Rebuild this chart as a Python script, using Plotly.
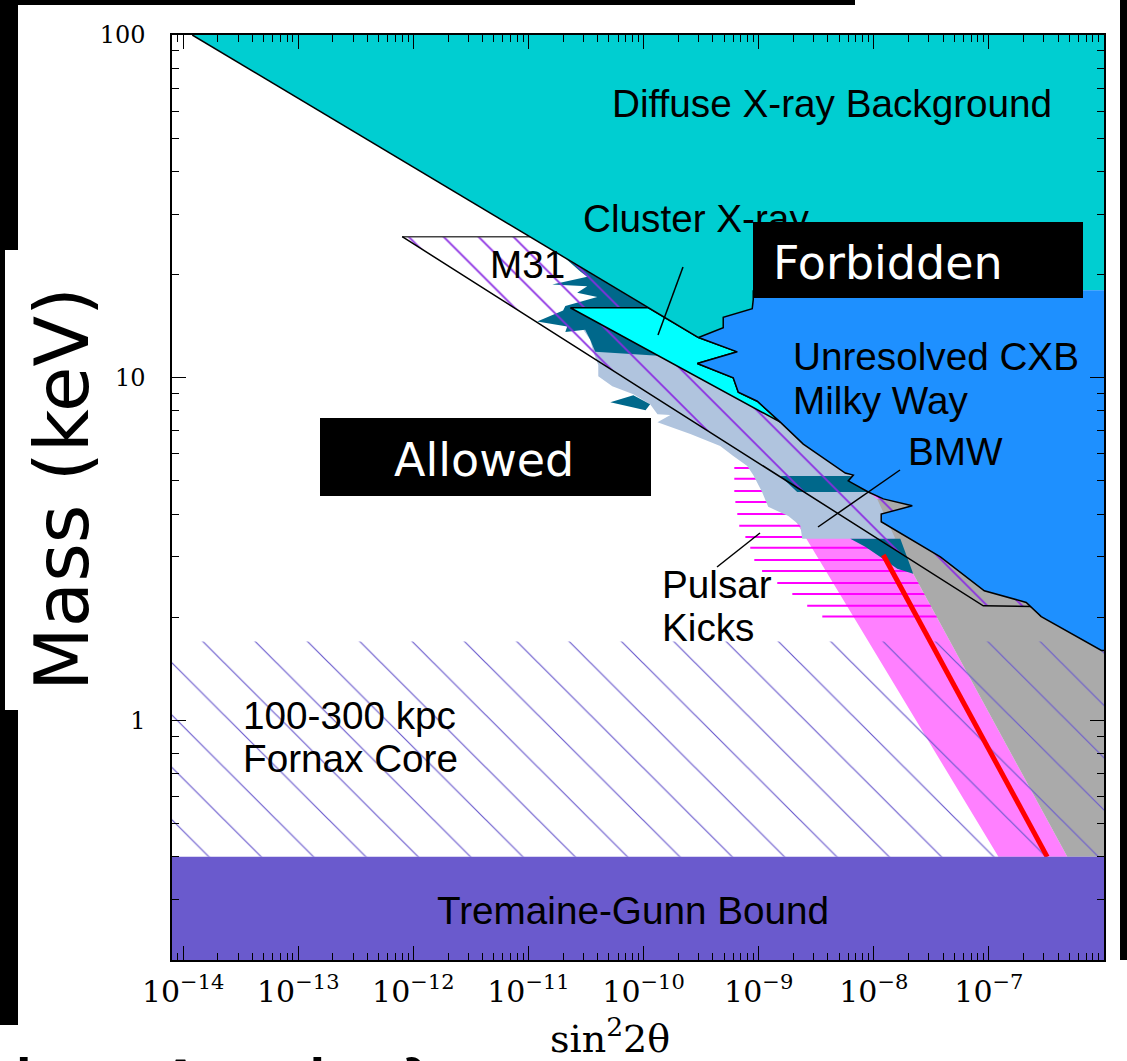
import plotly.graph_objects as go

# ---------------- figure geometry ----------------
W, H = 1127, 1061
L, R, T, B = 172, 23, 35, 101
PW, PH = W - L - R, H - T - B


def px(x):
    return (x - L) / PW


def py(y):
    return (H - B - y) / PH


# ---------------- data (sin^2 2theta , mass keV) ----------------
X_MIN, X_MAX = 8e-15, 1e-6
Y_MIN, Y_MAX = 0.2, 100
TG_BOUND = 0.4
FORNAX_TOP = 1.7

# Diffuse X-ray background lower edge
dxb_line_x = [1.2e-14, 3.0e-10]
dxb_line_y = [100, 13.1]
# DXB / unresolved CXB boundary (from junction upwards)
dxb_cxb_x = [3.0e-10, 4.92e-10, 4.92e-10, 8.79e-10, 8.97e-10, 8.97e-10]
dxb_cxb_y = [13.1, 14.0, 15.0, 15.9, 16.9, 18.0]
# Unresolved CXB / Milky Way lower edge
cxb_edge_x = [3.0e-10, 6.52e-10, 2.93e-10, 6.01e-10, 6.65e-10, 9.73e-10, 1.54e-9,
              2.44e-9, 5.65e-9, 6.64e-9, 6.0e-9, 8.95e-9, 1.21e-8, 2.16e-8, 1.16e-8,
              1.16e-8, 3.79e-8, 9.12e-8, 2.11e-7, 2.85e-7, 9.5e-7, 1.0e-6]
cxb_edge_y = [13.1, 11.9, 11.0, 10.0, 9.07, 8.54, 7.42,
              6.40, 5.27, 5.2, 5.0, 4.64, 4.43, 4.23, 4.00,
              3.80, 3.00, 2.39, 2.21, 2.01, 1.60, 1.60]

# Cluster X-ray
cluster_x = [2.31e-11, 1.10e-10, 3.0e-10, 6.52e-10, 2.93e-10, 6.01e-10, 6.65e-10,
             9.73e-10, 1.54e-9, 2.31e-11]
cluster_y = [16.0, 16.0, 13.1, 11.9, 11.0, 10.0, 9.07, 8.54, 7.42, 16.0]

# BMW (light steel blue)
bmw_x = [3.11e-11, 1.54e-9, 2.44e-9, 5.65e-9, 6.64e-9, 6.0e-9, 8.95e-9, 1.07e-8,
         1.54e-8, 2.39e-9, 2.30e-9, 1.81e-9, 1.21e-9, 1.07e-9, 8.97e-10, 7.96e-10,
         6.01e-10, 4.63e-10, 2.55e-10, 1.32e-10, 1.71e-10, 1.32e-10, 1.14e-10,
         8.15e-11, 5.35e-11, 4.04e-11, 4.04e-11, 3.66e-11, 3.44e-11, 2.99e-11]
bmw_y = [15.2, 7.42, 6.40, 5.27, 5.2, 5.0, 4.64, 4.43,
         3.39, 3.39, 3.70, 3.95, 4.20, 4.64, 5.20, 5.53,
         5.91, 6.32, 6.85, 7.42, 7.78, 7.83, 8.37,
         8.95, 9.45, 10.1, 10.9, 11.9, 12.9, 13.8]

# M31 (dark teal) pieces
m31_a_x = [2.09e-11, 1.10e-10, 1.34e-10, 3.80e-11, 3.44e-11, 3.11e-11, 2.09e-11,
           2.17e-11, 1.19e-11, 2.0e-11, 2.09e-11, 3.96e-11, 2.65e-11, 3.24e-11,
           1.61e-11, 3.24e-11, 2.82e-11]
m31_a_y = [22.3, 16.0, 11.6, 11.9, 12.9, 13.8, 13.6,
           14.1, 14.6, 15.7, 16.2, 17.2, 17.7, 18.5,
           18.7, 19.7, 20.4]
m31_b_x = [5.14e-11, 8.15e-11, 1.14e-10, 1.04e-10]
m31_b_y = [8.48, 8.89, 8.37, 8.04]
m31_c_x = [1.54e-9, 6.25e-9, 9.33e-9, 2.16e-9]
m31_c_y = [5.17, 5.17, 4.64, 4.64]
m31_d_x = [6.25e-9, 1.70e-8, 2.20e-8, 1.60e-8, 1.14e-8, 8.43e-9]
m31_d_y = [3.39, 3.39, 2.68, 2.77, 3.00, 3.21]

# hatched band (purple lines)
band_top_x = [8.0e-13, 1.04e-11]
band_top_y = [25.8, 25.8]
band_low_x = [8.0e-13, 8.93e-8, 2.38e-7, 2.85e-7]
band_low_y = [25.8, 2.16, 2.15, 2.01]

# grey region
grey_x = [9.7e-9, 1.21e-8, 2.16e-8, 1.16e-8, 1.16e-8, 3.79e-8, 9.12e-8, 2.11e-7,
          2.85e-7, 9.5e-7, 1e-6, 1e-6, 4.8e-7, 2.20e-8]
grey_y = [4.43, 4.43, 4.23, 4.00, 3.80, 3.00, 2.39, 2.21,
          2.01, 1.60, 1.60, 0.4, 0.4, 2.68]

# pink production band
pink_x = [9.33e-10, 7.64e-9, 2.20e-8, 4.8e-7, 1.21e-7]
pink_y = [5.99, 5.99, 2.68, 0.4, 0.4]

# red line
red_x = [1.21e-8, 3.21e-7]
red_y = [3.04, 0.4]

# Pulsar kicks horizontal lines
pulsar_y = [5.45, 5.07, 4.67, 4.34, 4.00, 3.70, 3.43, 3.19, 2.94, 2.73, 2.52, 2.34, 2.16, 2.01]
pulsar_left = [6.14e-10, 6.14e-10, 6.14e-10, 6.27e-10, 6.52e-10, 6.78e-10, 7.66e-10,
               8.45e-10, 9.16e-10, 1.07e-9, 1.45e-9, 1.96e-9, 2.64e-9, 3.57e-9]
pulsar_right = [3.8e-8] * len(pulsar_y)

x_tick_vals = [1e-14, 1e-13, 1e-12, 1e-11, 1e-10, 1e-9, 1e-8, 1e-7, 1e-6]
x_tick_text = ["10<sup>\u221214</sup>", "10<sup>\u221213</sup>", "10<sup>\u221212</sup>",
               "10<sup>\u221211</sup>", "10<sup>\u221210</sup>", "10<sup>\u22129</sup>",
               "10<sup>\u22128</sup>", "10<sup>\u22127</sup>", "10<sup>\u22126</sup>"]
y_tick_vals = [1, 10, 100]
y_tick_text = ["1", "10", "100"]

# ---------------- colours ----------------
C_DXB = "#00CED1"
C_CXB = "#1E90FF"
C_CLUSTER = "#00FFFF"
C_BMW = "#B0C4DE"
C_M31 = "#00688B"
C_GREY = "#AAAAAA"
C_PINK = "#FF80FF"
C_MAGENTA = "#FF00FF"
C_TG = "#6A5ACD"
C_HATCH = "#6A5ACD"
C_PURPLE = "#8A2BE2"

fig = go.Figure()


def add_poly(xs, ys, color, line_color=None, line_width=0):
    fig.add_trace(go.Scatter(
        x=xs, y=ys, mode="lines", fill="toself", fillcolor=color,
        line=dict(color=line_color if line_color else color, width=line_width),
        hoverinfo="skip", showlegend=False))


def add_line(xs, ys, color="black", width=1.5):
    fig.add_trace(go.Scatter(x=xs, y=ys, mode="lines",
                             line=dict(color=color, width=width),
                             hoverinfo="skip", showlegend=False))


# pink band
add_poly(pink_x, pink_y, C_PINK)
# pulsar kicks lines
pk_x, pk_y = [], []
for yv, xl, xr in zip(pulsar_y, pulsar_left, pulsar_right):
    pk_x += [xl, xr, None]
    pk_y += [yv, yv, None]
add_line(pk_x, pk_y, C_MAGENTA, 2)
# grey
add_poly(grey_x, grey_y, C_GREY)
# Fornax hatch
fig.add_trace(go.Scatter(
    x=[X_MIN, X_MAX, X_MAX, X_MIN, X_MIN], y=[TG_BOUND, TG_BOUND, FORNAX_TOP, FORNAX_TOP, TG_BOUND],
    mode="lines", fill="toself", fillcolor="rgba(0,0,0,0)", line=dict(width=0, color="rgba(0,0,0,0)"),
    fillpattern=dict(shape="\\", size=37, solidity=0.032, fgcolor=C_HATCH,
                     bgcolor="rgba(0,0,0,0)", fillmode="replace"),
    hoverinfo="skip", showlegend=False))
# BMW
add_poly(bmw_x, bmw_y, C_BMW)
# M31 teal pieces
mx, my = [], []
for xs, ys in [(m31_a_x, m31_a_y), (m31_b_x, m31_b_y), (m31_c_x, m31_c_y), (m31_d_x, m31_d_y)]:
    mx += xs + [xs[0], None]
    my += ys + [ys[0], None]
add_poly(mx, my, C_M31)
# purple hatched band
band_x = band_top_x + [dxb_line_x[1]] + cxb_edge_x[1:20] + band_low_x[::-1][1:]
band_y = band_top_y + [dxb_line_y[1]] + cxb_edge_y[1:20] + band_low_y[::-1][1:]
fig.add_trace(go.Scatter(
    x=band_x, y=band_y, mode="lines", fill="toself", fillcolor="rgba(0,0,0,0)",
    line=dict(width=0, color="rgba(0,0,0,0)"),
    fillpattern=dict(shape="\\", size=24.7, solidity=0.07, fgcolor=C_PURPLE,
                     bgcolor="rgba(0,0,0,0)", fillmode="replace"),
    hoverinfo="skip", showlegend=False))
add_line(band_top_x, band_top_y, "#444444", 1.5)
add_line(band_low_x, band_low_y, "black", 1.5)
# Cluster X-ray
add_poly(cluster_x, cluster_y, C_CLUSTER, "black", 1.5)
# DXB
dxb_x = [dxb_line_x[0], X_MAX, X_MAX] + dxb_cxb_x[::-1] + [dxb_line_x[0]]
dxb_y = [dxb_line_y[0], Y_MAX, dxb_cxb_y[-1]] + dxb_cxb_y[::-1] + [dxb_line_y[0]]
add_poly(dxb_x, dxb_y, C_DXB)
# unresolved CXB
cxb_x = [X_MAX] + dxb_cxb_x[::-1] + cxb_edge_x[1:] + [X_MAX]
cxb_y = [dxb_cxb_y[-1]] + dxb_cxb_y[::-1] + cxb_edge_y[1:] + [dxb_cxb_y[-1]]
add_poly(cxb_x, cxb_y, C_CXB)
# boundary lines
add_line(dxb_line_x, dxb_line_y)
add_line(dxb_cxb_x, dxb_cxb_y)
add_line(cxb_edge_x, cxb_edge_y)
# red line
add_line(red_x, red_y, "#FF0000", 5)
# Tremaine-Gunn
add_poly([X_MIN, X_MAX, X_MAX, X_MIN, X_MIN], [Y_MIN, Y_MIN, TG_BOUND, TG_BOUND, Y_MIN], C_TG)

# ---------------- axes ----------------
x_minor = [k * 10.0 ** d for d in range(-15, -6) for k in range(2, 10) if X_MIN <= k * 10.0 ** d <= X_MAX]
y_minor = [k * 10.0 ** d for d in range(-1, 2) for k in range(2, 10) if Y_MIN <= k * 10.0 ** d <= Y_MAX]

axis_common = dict(showgrid=False, zeroline=False, showline=True, linecolor="black", linewidth=1.5,
                   mirror="ticks", ticks="inside", ticklen=14, tickwidth=1.3, tickcolor="black")
fig.update_xaxes(type="log", range=[-14.09691, -6], tickmode="array", tickvals=x_tick_vals,
                 ticktext=x_tick_text, tickfont=dict(family="DejaVu Serif", size=30, color="black"),
                 minor=dict(tickmode="array", tickvals=x_minor, ticks="inside", ticklen=7,
                            tickwidth=1.2, tickcolor="black", showgrid=False),
                 ticklabelstandoff=4, **axis_common)
fig.update_yaxes(type="log", range=[-0.69897, 2], tickmode="array", tickvals=y_tick_vals,
                 ticktext=y_tick_text, tickfont=dict(family="DejaVu Serif", size=24, color="black"),
                 minor=dict(tickmode="array", tickvals=y_minor, ticks="inside", ticklen=7,
                            tickwidth=1.2, tickcolor="black", showgrid=False),
                 ticklabelstandoff=20, **axis_common)

# ---------------- frame / decorations ----------------
shapes = []


def rect(x0, y0, x1, y1, color="black"):
    shapes.append(dict(type="rect", xref="paper", yref="paper", x0=px(x0), x1=px(x1),
                       y0=py(y1), y1=py(y0), fillcolor=color, line=dict(width=0), layer="above"))


def seg(x0, y0, x1, y1):
    shapes.append(dict(type="line", xref="paper", yref="paper", x0=px(x0), x1=px(x1),
                       y0=py(y0), y1=py(y1), line=dict(color="black", width=1.5), layer="above"))


rect(0, 0, 855, 5)
rect(1120, 0, 1127, 960)
rect(0, 0, 18, 250)
rect(0, 250, 5, 710)
rect(0, 710, 18, 1025)
# pointer lines
seg(683, 267, 658, 335)
seg(900, 470, 818, 527)
seg(760, 533, 717, 567)

annotations = []
SANS = "Liberation Sans, Arial, sans-serif"
GOTH = "DejaVu Sans, sans-serif"


def label(text, x, y, size=38.7, anchor="left", color="black", family=SANS, **kw):
    annotations.append(dict(text=text, xref="paper", yref="paper", x=px(x), y=py(y),
                            xanchor=anchor, yanchor="middle", showarrow=False,
                            font=dict(family=family, size=size, color=color), **kw))


label("Diffuse X-ray Background", 610, 103)
label("Cluster X-ray", 581, 219)
label("M31", 488, 264)
label("Unresolved CXB", 791, 356)
label("Milky Way", 791, 401)
label("BMW", 906, 452)
label("Pulsar", 660, 585)
label("Kicks", 660, 627)
label("100-300 kpc", 241, 715)
label("Fornax Core", 241, 758)
label("Tremaine-Gunn Bound", 633, 910, anchor="center")

# black boxes with white text
annotations.append(dict(text=" ", xref="paper", yref="paper", x=px(918), y=py(260),
                        xanchor="center", yanchor="middle", showarrow=False, width=330, height=76,
                        bgcolor="black", borderpad=0, borderwidth=0))
annotations.append(dict(text=" ", xref="paper", yref="paper", x=px(485.5), y=py(457),
                        xanchor="center", yanchor="middle", showarrow=False, width=331, height=78,
                        bgcolor="black", borderpad=0, borderwidth=0))
label("Forbidden", 888, 263, size=46, anchor="center", color="white", family=GOTH)
label("Allowed", 484, 460, size=46, anchor="center", color="white", family=GOTH)

# axis titles
annotations.append(dict(text="Mass (keV)", xref="paper", yref="paper", x=px(62), y=py(489),
                        xanchor="center", yanchor="middle", textangle=-90, showarrow=False,
                        font=dict(family=GOTH, size=74, color="black")))
annotations.append(dict(text="sin<sup>2</sup>2\u03b8", xref="paper", yref="paper", x=px(610), y=py(1036),
                        xanchor="center", yanchor="middle", showarrow=False,
                        font=dict(family="DejaVu Serif", size=38, color="black")))
# slide text partly visible below the chart
annotations.append(dict(text="ing Angle \u03bb", xref="paper", yref="paper", x=px(12), y=py(1038),
                        xanchor="left", yanchor="top", showarrow=False,
                        font=dict(family=SANS, size=88, color="black")))

fig.update_layout(width=W, height=H, margin=dict(l=L, r=R, t=T, b=B, pad=0),
                  paper_bgcolor="white", plot_bgcolor="white", showlegend=False,
                  shapes=shapes, annotations=annotations)

fig.write_html("out.html")
